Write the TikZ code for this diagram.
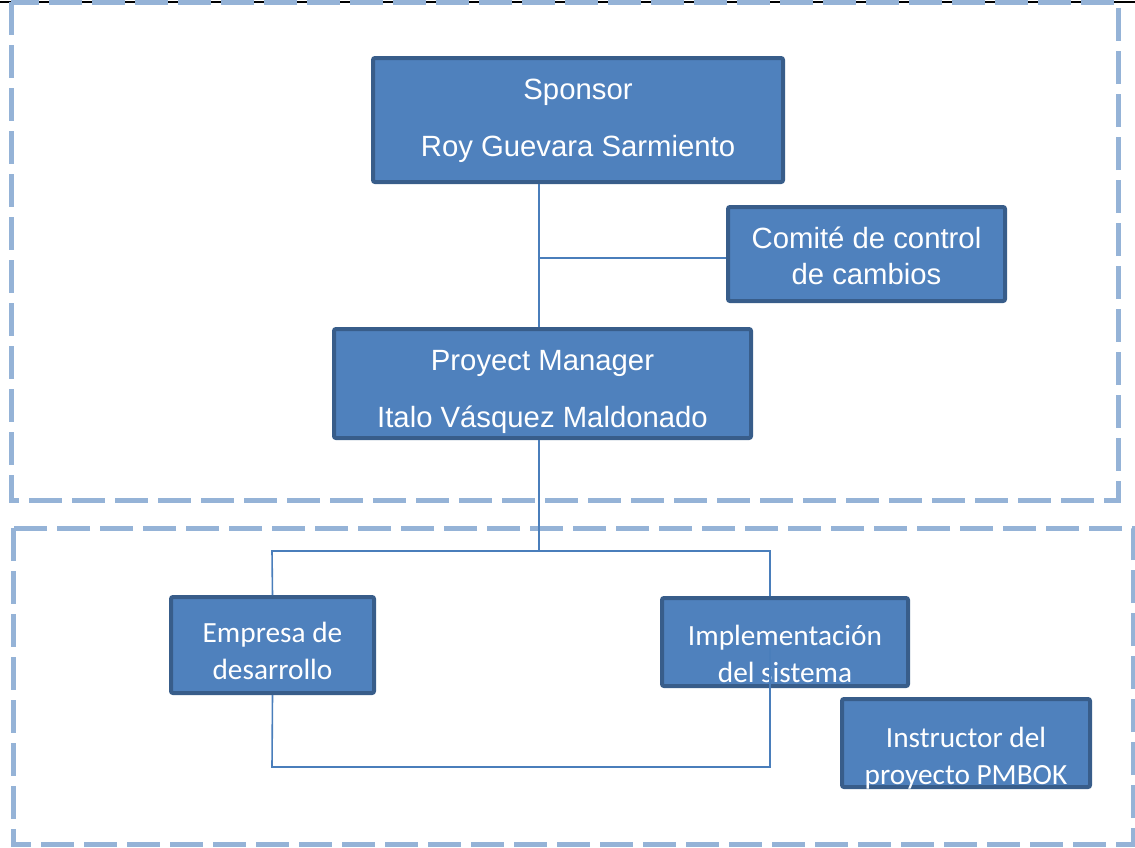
\documentclass[tikz,border=0pt]{standalone}
\usepackage{fontspec}
\setmainfont{Liberation Sans}
\newfontfamily\calibri{Carlito}
\definecolor{boxfill}{HTML}{4F81BD}
\definecolor{boxline}{HTML}{385D8A}
\definecolor{linkblue}{HTML}{4A7EBB}
\definecolor{dashblue}{HTML}{95B3D7}
\begin{document}
\begin{tikzpicture}[x=1pt,y=-1pt,
  orgbox/.style={rectangle,draw=boxline,fill=boxfill,line width=4pt,rounded corners=2pt,inner sep=0pt},
  boxtext/.style={text=white,align=center,inner sep=0pt,font=\fontsize{29.3}{36}\selectfont},
  smalltext/.style={boxtext,font=\calibri\fontsize{29.3}{37}\selectfont},
  link/.style={draw=linkblue,line width=1.6pt},
  area/.style={draw=dashblue,line width=5pt,dash pattern=on 33pt off 10pt}]
\useasboundingbox (0,0) rectangle (1135,847);
\draw[black,line width=1.2pt] (0,2) -- (1135,2);
\draw[area] (11,2) rectangle (1118,500);
\draw[area] (13,528) rectangle (1133,844);

\node[orgbox,minimum width=410pt,minimum height=124pt,
  label={[boxtext,yshift=-1pt]center:Sponsor\\[21pt]Roy Guevara Sarmiento}] (spon) at (578,120) {};
\node[orgbox,minimum width=277pt,minimum height=94pt,
  label={[boxtext,yshift=-2pt]center:Comité de control\\de cambios}] (com) at (866.5,254) {};
\node[orgbox,minimum width=417pt,minimum height=109pt,
  label={[boxtext,yshift=-8pt]center:Proyect Manager\\[21pt]Italo Vásquez Maldonado}] (pm) at (542.5,383.5) {};
\node[orgbox,minimum width=203pt,minimum height=96pt,
  label={[smalltext,yshift=-6pt]center:Empresa de\\desarrollo}] (emp) at (272.5,645) {};
\node[orgbox,minimum width=246pt,minimum height=88pt,
  label={[smalltext,yshift=-12pt]center:Implementación\\del sistema}] (imp) at (785,642) {};
\node[orgbox,minimum width=248pt,minimum height=88pt,
  label={[smalltext,yshift=-15pt]center:Instructor del\\proyecto PMBOK}] (ins) at (966,743) {};

\coordinate (j1) at (539,258);
\coordinate (j2) at (539,551);
\coordinate (bl) at (272,551);
\coordinate (br) at (770,551);
\coordinate (dl) at (272,767);
\coordinate (dr) at (770,767);
\coordinate (ie) at (770,648);

\draw[link] (spon.south -| j1) -- (pm.north -| j1);
\draw[link] (j1) -- (j1 -| com.west);
\draw[link] (pm.south -| j2) -- (j2);
\draw[link] (emp.north) -- (bl) -- (br) -- (imp.north -| br);
\draw[link] (emp.south) -- (dl) -- (dr) -- (ie);
\end{tikzpicture}
\end{document}
